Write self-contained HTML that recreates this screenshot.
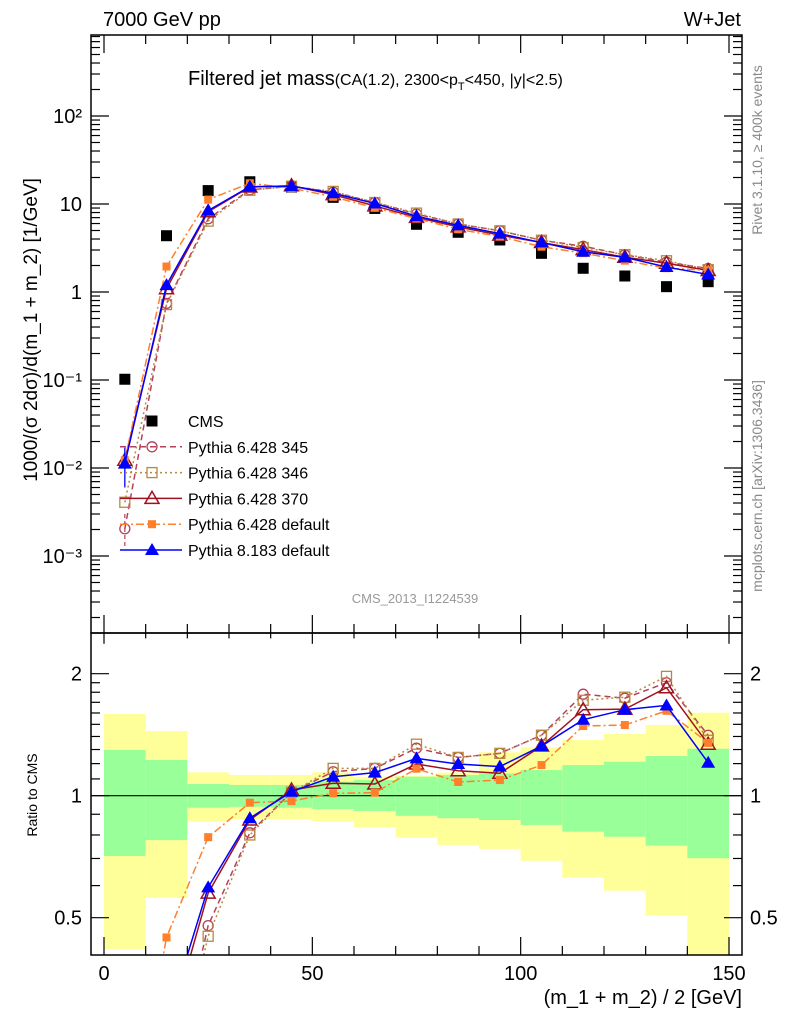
<!DOCTYPE html>
<html><head><meta charset="utf-8">
<style>
html,body{margin:0;padding:0;background:#fff;width:786px;height:1024px;overflow:hidden;}
svg{display:block;font-family:"Liberation Sans","DejaVu Sans",sans-serif;}
</style></head>
<body>
<svg id="plot" width="786" height="1024" viewBox="0 0 786 1024" xmlns="http://www.w3.org/2000/svg">
<defs>
<clipPath id="clipMain"><rect x="91" y="35" width="651" height="598"/></clipPath>
<clipPath id="clipRatio"><rect x="91" y="633" width="651" height="322"/></clipPath>
</defs>
<g id="bands" clip-path="url(#clipRatio)"></g>
<g id="ratioLines" clip-path="url(#clipRatio)"></g>
<g id="mainLines" clip-path="url(#clipMain)"></g>
<g id="axes"></g>
<text x="103" y="26" font-size="20">7000 GeV pp</text>
<text x="741" y="26" font-size="20" text-anchor="end">W+Jet</text>
<text x="188" y="85" font-size="20">Filtered jet mass<tspan font-size="16">(CA(1.2), 2300&lt;p</tspan><tspan font-size="11" dy="5">T</tspan><tspan font-size="16" dy="-5">&lt;450, |y|&lt;2.5)</tspan></text>
<text transform="translate(37,330) rotate(-90)" font-size="19" text-anchor="middle">1000/(σ 2dσ)/d(m_1 + m_2) [1/GeV]</text>
<text transform="translate(37,795) rotate(-90)" font-size="14" text-anchor="middle">Ratio to CMS</text>
<text x="742" y="1004" font-size="20" text-anchor="end">(m_1 + m_2) / 2 [GeV]</text>
<text transform="translate(762,150) rotate(-90)" font-size="14" fill="#888" text-anchor="middle">Rivet 3.1.10, ≥ 400k events</text>
<text transform="translate(762,486) rotate(-90)" font-size="14" fill="#888" text-anchor="middle">mcplots.cern.ch [arXiv:1306.3436]</text>
<text x="415" y="603" font-size="13" fill="#999" text-anchor="middle">CMS_2013_I1224539</text>
<g id="legend"></g>
</svg>
<script>
const binCenters=[5,15,25,35,45,55,65,75,85,95,105,115,125,135,145];
const cmsValues=[0.102,4.36,14.2,17.9,15.6,11.9,8.9,5.88,4.77,3.9,2.75,1.86,1.52,1.15,1.31];
const ratio345=[0.02,0.17,0.478,0.81,1.02,1.146,1.168,1.31,1.243,1.272,1.41,1.78,1.74,1.9,1.41];
const ratio346=[0.04,0.165,0.45,0.80,1.02,1.168,1.168,1.34,1.243,1.272,1.41,1.72,1.75,1.97,1.37];
const ratio370=[0.12,0.25,0.575,0.871,1.033,1.073,1.069,1.197,1.152,1.136,1.326,1.63,1.635,1.847,1.34];
const ratioP6def=[0.12,0.447,0.79,0.961,0.97,1.014,1.017,1.166,1.081,1.093,1.19,1.486,1.494,1.62,1.35];
const ratioP8def=[0.11,0.275,0.594,0.88,1.023,1.114,1.14,1.236,1.197,1.18,1.326,1.54,1.63,1.67,1.206];
const greenUp=[1.297,1.225,1.069,1.063,1.063,1.083,1.093,1.114,1.125,1.135,1.157,1.19,1.213,1.253,1.306];
const greenDn=[0.710,0.777,0.934,0.939,0.934,0.927,0.917,0.892,0.88,0.871,0.847,0.815,0.792,0.753,0.701];
const yellowUp=[1.591,1.444,1.142,1.125,1.125,1.142,1.114,1.12,1.14,1.28,1.317,1.372,1.42,1.495,1.603];
const yellowDn=[0.418,0.560,0.863,0.876,0.876,0.863,0.836,0.788,0.756,0.739,0.691,0.629,0.583,0.506,0.40];
const mainTickLabels=["10⁻³","10⁻²","10⁻¹","1","10","10²"];
const ratioTickValues=[0.5,1,2];
const xTickValues=[0,50,100,150];

const NS="http://www.w3.org/2000/svg";
const L=91,R=742,T=35,MB=633,RB=955;
const xs=v=>104+v*(625/150);
const ym=v=>292-88*Math.log10(v);
const yr=v=>795.7-122*Math.log2(v);
function el(tag,attrs,parent){const e=document.createElementNS(NS,tag);for(const k in attrs)e.setAttribute(k,attrs[k]);parent.appendChild(e);return e;}
const axes=document.getElementById('axes');
const bands=document.getElementById('bands');
const mainG=document.getElementById('mainLines');
const ratioG=document.getElementById('ratioLines');
const legend=document.getElementById('legend');

binCenters.forEach((c,i)=>{
  const x0=xs(c-5),x1=xs(c+5);
  const y=el('rect',{x:x0,y:yr(yellowUp[i]),width:x1-x0,height:yr(yellowDn[i])-yr(yellowUp[i]),fill:'#ffff99'},bands);
  
  
  const g=el('rect',{x:x0,y:yr(greenUp[i]),width:x1-x0,height:yr(greenDn[i])-yr(greenUp[i]),fill:'#99ff99'},bands);
  
  
});
const one=el('line',{x1:L,x2:R,y1:yr(1),y2:yr(1),stroke:'#000','stroke-width':1.2},ratioG);



function marker(type,color,x,y,parent){
  let m;
  if(type==='circle')m=el('circle',{cx:x,cy:y,r:5,fill:'none',stroke:color,'stroke-width':1.3},parent);
  else if(type==='osq')m=el('rect',{x:x-5,y:y-5,width:10,height:10,fill:'none',stroke:color,'stroke-width':1.3},parent);
  else if(type==='otri')m=el('polygon',{points:`${x},${y-7} ${x-7},${y+5} ${x+7},${y+5}`,fill:'none',stroke:color,'stroke-width':1.5},parent);
  else if(type==='fsq')m=el('rect',{x:x-4,y:y-4,width:8,height:8,fill:color},parent);
  else if(type==='ftri')m=el('polygon',{points:`${x},${y-7} ${x-7},${y+5} ${x+7},${y+5}`,fill:color},parent);
  else if(type==='cms')m=el('rect',{x:x-5.5,y:y-5.5,width:11,height:11,fill:'#000'},parent);
  return m;
}
const series=[
  {name:'pythia-6428-345',label:'Pythia 6.428 345',r:ratio345,color:'#b5405a',dash:'6,4',mk:'circle'},
  {name:'pythia-6428-346',label:'Pythia 6.428 346',r:ratio346,color:'#b8883e',dash:'2,3',mk:'osq'},
  {name:'pythia-6428-370',label:'Pythia 6.428 370',r:ratio370,color:'#a0101e',dash:'',mk:'otri'},
  {name:'pythia-6428-default',label:'Pythia 6.428 default',r:ratioP6def,color:'#ff7f2a',dash:'8,3,2,3',mk:'fsq'},
  {name:'pythia-8183-default',label:'Pythia 8.183 default',r:ratioP8def,color:'#0000ff',dash:'',mk:'ftri'}
];
binCenters.forEach((c,i)=>{
  const m=marker('cms','#000',xs(c),ym(cmsValues[i]),mainG);
  
  
});
series.forEach(s=>{
  const mv=s.r.map((r,i)=>r*cmsValues[i]);
  const pm=binCenters.map((c,i)=>`${xs(c)},${ym(mv[i])}`).join(' ');
  const lm=el('polyline',{points:pm,fill:'none',stroke:s.color,'stroke-width':1.5,'stroke-dasharray':s.dash},mainG);
  
  
  const pr=binCenters.map((c,i)=>`${xs(c)},${yr(s.r[i])}`).join(' ');
  const lr=el('polyline',{points:pr,fill:'none',stroke:s.color,'stroke-width':1.5,'stroke-dasharray':s.dash},ratioG);
  
  
  binCenters.forEach((c,i)=>{
    const a=marker(s.mk,s.color,xs(c),ym(mv[i]),mainG);
    
    
    const b=marker(s.mk,s.color,xs(c),yr(s.r[i]),ratioG);
    
    
  });
});
const eb=el('line',{x1:xs(5),x2:xs(5),y1:ym(0.017),y2:ym(0.006),stroke:'#0000ff','stroke-width':1.3},mainG);


const eb2=el('line',{x1:xs(5),x2:xs(5),y1:ym(0.003),y2:ym(0.0012),stroke:'#b5405a','stroke-width':1.2,'stroke-dasharray':'4,3'},mainG);



[[T,MB],[MB,RB]].forEach(([a,b])=>{
  const f=el('rect',{x:L,y:a,width:R-L,height:b-a,fill:'none',stroke:'#000','stroke-width':1.5},axes);
  
  
});
function tick(x1,y1,x2,y2){el('line',{x1,y1,x2,y2,stroke:'#000','stroke-width':1.2},axes);}
for(let v=0;v<=150;v+=10){
  const x=xs(v),big=v%50===0,len=big?18:9;
  tick(x,RB,x,RB-len);tick(x,MB,x,MB-len);tick(x,MB,x,MB+len*0.6);tick(x,T,x,T+len);
}
xTickValues.forEach(v=>{
  const t=el('text',{x:xs(v),y:980,'font-size':20,'text-anchor':'middle'},axes);t.textContent=v;
  
  
});
for(let e=-4;e<=2;e++){
  for(let k=1;k<=9;k++){
    const v=k*Math.pow(10,e),y=ym(v);
    if(y<T||y>MB)continue;
    const len=k===1?18:9;
    tick(L,y,L+len,y);tick(R,y,R-len,y);
  }
}
mainTickLabels.forEach((lab,i)=>{
  const v=Math.pow(10,i-3);
  const t=el('text',{x:82,y:ym(v)+7,'font-size':20,'text-anchor':'end'},axes);t.textContent=lab;
  
  
});
[0.5,0.6,0.7,0.8,0.9,1,1.1,1.2,1.3,1.4,1.5,1.6,1.7,1.8,1.9,2].forEach(v=>{
  const y=yr(v),big=(v===0.5||v===1||v===2),len=big?18:9;
  tick(L,y,L+len,y);tick(R,y,R-len,y);
});
ratioTickValues.forEach(v=>{
  const t=el('text',{x:82,y:yr(v)+7,'font-size':20,'text-anchor':'end'},axes);t.textContent=v;
  
  
  const t2=el('text',{x:750,y:yr(v)+7,'font-size':20},axes);t2.textContent=v;
  
  
});
const ly0=421,ldy=25.8;
const lc=marker('cms','#000',152,ly0,legend);


const lt=el('text',{x:188,y:ly0+6,'font-size':16},legend);lt.textContent='CMS';


series.forEach((s,i)=>{
  const y=ly0+ldy*(i+1);
  const ln=el('line',{x1:120,x2:182,y1:y,y2:y,stroke:s.color,'stroke-width':1.5,'stroke-dasharray':s.dash},legend);
  
  
  const m=marker(s.mk,s.color,152,y,legend);
  
  
  const t=el('text',{x:188,y:y+6,'font-size':16},legend);t.textContent=s.label;
  
  
});
</script>
</body></html>
